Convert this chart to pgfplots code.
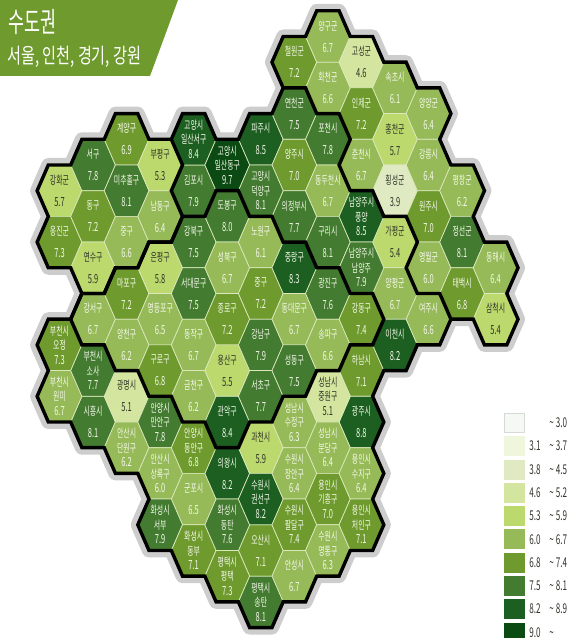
\documentclass[border=0pt]{standalone}
\usepackage{fontspec}
\setmainfont[FakeStretch=0.6]{Noto Sans CJK KR}
\newfontfamily\titlefont[FakeStretch=0.62]{Noto Sans CJK KR}
\newfontfamily\subfont[FakeStretch=0.72]{Noto Sans CJK KR}
\usepackage{pgfplots}
\pgfplotsset{compat=1.18}

% class fills (a = lowest)
\definecolor{fa}{HTML}{F5F9F6}
\definecolor{fb}{HTML}{EEF6DC}
\definecolor{fc}{HTML}{DFEAC3}
\definecolor{fd}{HTML}{D3E59E}
\definecolor{fe}{HTML}{BCD96E}
\definecolor{ff}{HTML}{96BA58}
\definecolor{fg}{HTML}{6F9B2E}
\definecolor{fh}{HTML}{437B30}
\definecolor{fi}{HTML}{1C5F20}
\definecolor{fj}{HTML}{0B4A12}
\definecolor{banner}{HTML}{6F9B2E}
\definecolor{dk}{HTML}{2F3328}
\definecolor{lt}{HTML}{F4F8EA}
\definecolor{hexline}{HTML}{DCE8BC}
\definecolor{halo}{HTML}{CDCDCD}
\colorlet{ta}{dk}\colorlet{tb}{dk}\colorlet{tc}{dk}\colorlet{td}{dk}\colorlet{te}{dk}
\colorlet{tf}{lt}\colorlet{tg}{lt}\colorlet{th}{lt}\colorlet{ti}{lt}\colorlet{tj}{lt}
% swatch borders
\definecolor{sa}{HTML}{D5DAD5}
\colorlet{sb}{fb}\colorlet{sc}{fc}\colorlet{sd}{fd}\colorlet{se}{fe}
\colorlet{sf}{ff}\colorlet{sg}{fg}\colorlet{sh}{fh}\colorlet{si}{fi}\colorlet{sj}{fj}

% stretched hexagon, one grid step is 33.55 x 25.7 pt
\pgfdeclareplotmark{hexa}{%
  \pgfpathmoveto{\pgfqpoint{-22.37pt}{0pt}}%
  \pgfpathlineto{\pgfqpoint{-11.18pt}{25.7pt}}%
  \pgfpathlineto{\pgfqpoint{11.18pt}{25.7pt}}%
  \pgfpathlineto{\pgfqpoint{22.37pt}{0pt}}%
  \pgfpathlineto{\pgfqpoint{11.18pt}{-25.7pt}}%
  \pgfpathlineto{\pgfqpoint{-11.18pt}{-25.7pt}}%
  \pgfpathclose\pgfusepathqfillstroke}
\pgfdeclareplotmark{swatch}{%
  \pgfpathrectangle{\pgfqpoint{-10pt}{-9.5pt}}{\pgfqpoint{20pt}{19pt}}%
  \pgfusepathqfillstroke}

% k, r, value, class, name
\newcommand\hx[5]{\addplot[only marks, mark=hexa,
  mark options={fill=f#4, draw=hexline, line width=0.7pt},
  nodes near coords={#5\\{\fontsize{12.5}{22}\selectfont #3}},
  nodes near coords align={center},
  every node near coord/.append style={align=center, inner sep=0pt, anchor=center,
    text=t#4, font=\fontsize{11.5}{22}\selectfont},
  ] coordinates {(#1,#2)};}
% k, r, value, class, name line 1, name line 2
\newcommand\hy[6]{\addplot[only marks, mark=hexa,
  mark options={fill=f#4, draw=hexline, line width=0.7pt},
  nodes near coords={#5\\#6\\{\fontsize{12.5}{14.5}\selectfont #3}},
  nodes near coords align={center},
  every node near coord/.append style={align=center, inner sep=0pt, anchor=center,
    text=t#4, font=\fontsize{11.5}{14.5}\selectfont},
  ] coordinates {(#1,#2)};}
% r, class, low, high
\newcommand\swt[4]{\addplot[only marks, mark=swatch,
  mark options={fill=f#2, draw=s#2, line width=0.5pt},
  nodes near coords={\makebox[17pt][l]{#3}\hspace{3pt}\char126\,#4},
  every node near coord/.append style={anchor=west, xshift=15pt, yshift=0pt, inner sep=0pt,
    text=dk, font=\fontsize{13.5}{14}\selectfont},
  ] coordinates {(13.547,#1)};}

\begin{document}
\begin{tikzpicture}
\begin{axis}[
  scale only axis, width=575pt, height=638pt,
  hide axis, y dir=reverse, clip marker paths=true,
  xmin=-1.7735, xmax=15.365, ymin=-6.42, ymax=18.405,
]
% grey rim behind the map
\addplot[halo, line width=14pt, line join=round] coordinates {
 (7.667,-6)(8.333,-6)(8.667,-5)(9.333,-5)(9.667,-4)(10.333,-4)(10.667,-3)(11.333,-3)(11.667,-2)(11.333,-1)(11.667,0)
 (12.333,0)(12.667,1)(12.333,2)(12.667,3)(13.333,3)(13.667,4)(13.333,5)(13.667,6)(13.333,7)(12.667,7)(12.333,6)
 (11.667,6)(11.333,7)(10.667,7)(10.333,8)(9.667,8)(9.333,9)(9.667,10)(9.333,11)(9.667,12)(9.333,13)(9.667,14)(9.333,15)
 (8.667,15)(8.333,16)(7.667,16)(7.333,17)(6.667,17)(6.333,18)(5.667,18)(5.333,17)(4.667,17)(4.333,16)(3.667,16)(3.333,15)
 (2.667,15)(2.333,14)(2.667,13)(2.333,12)(1.667,12)(1.333,11)(0.667,11)(0.333,10)(-0.333,10)(-0.667,9)(-0.333,8)(-0.667,7)
 (-0.333,6)(0.333,6)(0.667,5)(0.333,4)(-0.333,4)(-0.667,3)(-0.333,2)(-0.667,1)(-0.333,0)(0.333,0)(0.667,-1)(1.333,-1)
 (1.667,-2)(2.333,-2)(2.667,-1)(3.333,-1)(3.667,-2)(4.333,-2)(4.667,-1)(5.333,-1)(5.667,-2)(6.333,-2)(6.667,-3)(6.333,-4)
 (6.667,-5)(7.333,-5)} --cycle;
% one-line names
\hx{0}{1}{5.7}{e}{강화군}
\hx{0}{3}{7.3}{g}{옹진군}
\hx{1}{0}{7.8}{h}{서구}
\hx{1}{2}{7.2}{g}{동구}
\hx{1}{4}{5.9}{e}{연수구}
\hx{1}{6}{6.7}{f}{강서구}
\hx{1}{10}{8.1}{h}{시흥시}
\hx{2}{-1}{6.9}{g}{계양구}
\hx{2}{1}{8.1}{h}{미추홀구}
\hx{2}{3}{6.6}{f}{중구}
\hx{2}{5}{7.2}{g}{마포구}
\hx{2}{7}{6.2}{f}{양천구}
\hx{2}{9}{5.1}{d}{광명시}
\hx{3}{0}{5.3}{e}{부평구}
\hx{3}{2}{6.4}{f}{남동구}
\hx{3}{4}{5.8}{e}{은평구}
\hx{3}{6}{6.5}{f}{영등포구}
\hx{3}{8}{6.8}{g}{구로구}
\hx{4}{1}{7.9}{h}{김포시}
\hx{4}{3}{7.5}{h}{강북구}
\hx{4}{5}{7.5}{h}{서대문구}
\hx{4}{7}{6.7}{f}{동작구}
\hx{4}{9}{6.2}{f}{금천구}
\hx{4}{13}{6.5}{f}{군포시}
\hx{5}{2}{8.0}{h}{도봉구}
\hx{5}{4}{6.7}{f}{성북구}
\hx{5}{6}{7.2}{g}{종로구}
\hx{5}{8}{5.5}{e}{용산구}
\hx{5}{10}{8.4}{i}{관악구}
\hx{5}{12}{8.2}{i}{의왕시}
\hx{6}{-1}{8.5}{i}{파주시}
\hx{6}{3}{6.1}{f}{노원구}
\hx{6}{5}{7.2}{g}{중구}
\hx{6}{7}{7.9}{h}{강남구}
\hx{6}{9}{7.7}{h}{서초구}
\hx{6}{11}{5.9}{e}{과천시}
\hx{6}{15}{7.1}{g}{오산시}
\hx{7}{-4}{7.2}{g}{철원군}
\hx{7}{-2}{7.5}{h}{연천군}
\hx{7}{0}{7.0}{g}{양주시}
\hx{7}{2}{7.7}{h}{의정부시}
\hx{7}{4}{8.3}{i}{중랑구}
\hx{7}{6}{6.7}{f}{동대문구}
\hx{7}{8}{7.5}{h}{성동구}
\hx{7}{16}{6.7}{f}{안성시}
\hx{8}{-5}{6.7}{f}{양구군}
\hx{8}{-3}{6.6}{f}{화천군}
\hx{8}{-1}{7.8}{h}{포천시}
\hx{8}{1}{6.7}{f}{동두천시}
\hx{8}{3}{8.1}{h}{구리시}
\hx{8}{5}{7.6}{h}{광진구}
\hx{8}{7}{6.6}{f}{송파구}
\hx{9}{-4}{4.6}{d}{고성군}
\hx{9}{-2}{7.2}{g}{인제군}
\hx{9}{0}{6.7}{f}{춘천시}
\hx{9}{6}{7.4}{g}{강동구}
\hx{9}{8}{7.1}{g}{하남시}
\hx{9}{10}{8.8}{i}{광주시}
\hx{10}{-3}{6.1}{f}{속초시}
\hx{10}{-1}{5.7}{e}{홍천군}
\hx{10}{1}{3.9}{c}{횡성군}
\hx{10}{3}{5.4}{e}{가평군}
\hx{10}{5}{6.7}{f}{양평군}
\hx{10}{7}{8.2}{i}{이천시}
\hx{11}{-2}{6.4}{f}{양양군}
\hx{11}{0}{6.4}{f}{강릉시}
\hx{11}{2}{7.0}{g}{원주시}
\hx{11}{4}{6.0}{f}{영월군}
\hx{11}{6}{6.6}{f}{여주시}
\hx{12}{1}{6.2}{f}{평창군}
\hx{12}{3}{8.1}{h}{정선군}
\hx{12}{5}{6.8}{g}{태백시}
\hx{13}{4}{6.4}{f}{동해시}
\hx{13}{6}{5.4}{e}{삼척시}
% two-line names
\hy{0}{7}{7.3}{g}{부천시}{오정}
\hy{0}{9}{6.7}{f}{부천시}{원미}
\hy{1}{8}{7.7}{h}{부천시}{소사}
\hy{2}{11}{6.2}{f}{안산시}{단원구}
\hy{3}{10}{7.8}{h}{안양시}{만안구}
\hy{3}{12}{6.0}{f}{안산시}{상록구}
\hy{3}{14}{7.9}{h}{화성시}{서부}
\hy{4}{-1}{8.4}{i}{고양시}{일산서구}
\hy{4}{11}{6.8}{g}{안양시}{동안구}
\hy{4}{15}{7.1}{g}{화성시}{동부}
\hy{5}{0}{9.7}{j}{고양시}{일산동구}
\hy{5}{14}{7.6}{h}{화성시}{동탄}
\hy{5}{16}{7.3}{g}{평택시}{평택}
\hy{6}{1}{8.1}{h}{고양시}{덕양구}
\hy{6}{13}{8.2}{i}{수원시}{권선구}
\hy{6}{17}{8.1}{h}{평택시}{송탄}
\hy{7}{10}{6.3}{f}{성남시}{수정구}
\hy{7}{12}{6.4}{f}{수원시}{장안구}
\hy{7}{14}{7.4}{g}{수원시}{팔달구}
\hy{8}{9}{5.1}{d}{성남시}{중원구}
\hy{8}{11}{6.4}{f}{성남시}{분당구}
\hy{8}{13}{7.0}{g}{용인시}{기흥구}
\hy{8}{15}{6.3}{f}{수원시}{영통구}
\hy{9}{2}{8.5}{i}{남양주시}{풍양}
\hy{9}{4}{7.9}{h}{남양주시}{남양주}
\hy{9}{12}{6.4}{f}{용인시}{수지구}
\hy{9}{14}{7.1}{g}{용인시}{처인구}
% outer outline
\addplot[black, line width=3.4pt, miter limit=3] coordinates {
 (7.667,-6)(8.333,-6)(8.667,-5)(9.333,-5)(9.667,-4)(10.333,-4)(10.667,-3)(11.333,-3)(11.667,-2)(11.333,-1)(11.667,0)
 (12.333,0)(12.667,1)(12.333,2)(12.667,3)(13.333,3)(13.667,4)(13.333,5)(13.667,6)(13.333,7)(12.667,7)(12.333,6)
 (11.667,6)(11.333,7)(10.667,7)(10.333,8)(9.667,8)(9.333,9)(9.667,10)(9.333,11)(9.667,12)(9.333,13)(9.667,14)(9.333,15)
 (8.667,15)(8.333,16)(7.667,16)(7.333,17)(6.667,17)(6.333,18)(5.667,18)(5.333,17)(4.667,17)(4.333,16)(3.667,16)(3.333,15)
 (2.667,15)(2.333,14)(2.667,13)(2.333,12)(1.667,12)(1.333,11)(0.667,11)(0.333,10)(-0.333,10)(-0.667,9)(-0.333,8)(-0.667,7)
 (-0.333,6)(0.333,6)(0.667,5)(0.333,4)(-0.333,4)(-0.667,3)(-0.333,2)(-0.667,1)(-0.333,0)(0.333,0)(0.667,-1)(1.333,-1)
 (1.667,-2)(2.333,-2)(2.667,-1)(3.333,-1)(3.667,-2)(4.333,-2)(4.667,-1)(5.333,-1)(5.667,-2)(6.333,-2)(6.667,-3)(6.333,-4)
 (6.667,-5)(7.333,-5)} --cycle;
% region borders: Incheon, Seoul, Gangwon
\addplot[black, line width=3.4pt, miter limit=3] coordinates {
 (3.333,-1)(3.667,0)(3.333,1)(3.667,2)(3.333,3)(2.667,3)(2.333,4)(1.667,4)(1.333,5)(0.667,5)};
\addplot[black, line width=3.4pt, miter limit=3] coordinates {
 (4.667,1)(5.333,1)(5.667,2)(6.333,2)(6.667,3)(7.333,3)(7.667,4)(8.333,4)(8.667,5)(9.333,5)(9.667,6)(9.333,7)(8.667,7)
 (8.333,8)(7.667,8)(7.333,9)(6.667,9)(6.333,10)(5.667,10)(5.333,11)(4.667,11)(4.333,10)(3.667,10)(3.333,9)(2.667,9)
 (2.333,8)(1.667,8)(1.333,7)(0.667,7)(0.333,6)(0.667,5)(1.333,5)(1.667,4)(2.333,4)(2.667,3)(3.333,3)(3.667,2)(4.333,2)} --cycle;
\addplot[black, line width=3.4pt, miter limit=3] coordinates {
 (6.667,-3)(7.333,-3)(7.667,-2)(8.333,-2)(8.667,-1)(8.333,0)(8.667,1)(9.333,1)(9.667,2)(10.333,2)(10.667,3)(10.333,4)
 (10.667,5)(11.333,5)(11.667,6)};
% legend
\swt{10.03}{a}{}{3.0}
\swt{10.93}{b}{3.1}{3.7}
\swt{11.84}{c}{3.8}{4.5}
\swt{12.75}{d}{4.6}{5.2}
\swt{13.65}{e}{5.3}{5.9}
\swt{14.56}{f}{6.0}{6.7}
\swt{15.47}{g}{6.8}{7.4}
\swt{16.37}{h}{7.5}{8.1}
\swt{17.28}{i}{8.2}{8.9}
\swt{18.19}{j}{9.0}{}
% title banner
\fill[banner] (rel axis cs:0,1) -- (rel axis cs:0.3096,1) -- (rel axis cs:0.2609,0.8809) -- (rel axis cs:0,0.8809) -- cycle;
\node[anchor=west, text=white, inner sep=0pt] at (rel axis cs:0.0139,0.9655) {\titlefont\fontsize{28}{30}\selectfont 수도권};
\node[anchor=west, text=white, inner sep=0pt] at (rel axis cs:0.0122,0.9107) {\subfont\fontsize{21}{23}\selectfont 서울, 인천, 경기, 강원};
\end{axis}
\end{tikzpicture}
\end{document}
